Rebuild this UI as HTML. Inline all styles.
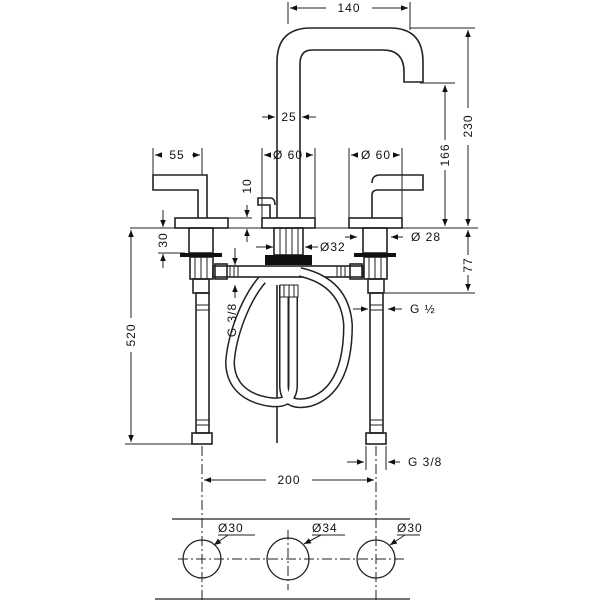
<!DOCTYPE html>
<html><head><style>html,body{margin:0;padding:0;background:#fff}svg{display:block}</style></head><body>
<svg width="600" height="600" viewBox="0 0 600 600" xmlns="http://www.w3.org/2000/svg" font-family="Liberation Sans, sans-serif" fill="none" stroke="#222">
<defs>
<marker id="a" viewBox="0 0 10 10" refX="10" refY="5" markerWidth="7" markerHeight="7" orient="auto-start-reverse"><path d="M0,1 L10,5 L0,9z" fill="#111" stroke="none"/></marker>
</defs>
<g stroke-width="1">
<line x1="288" y1="2" x2="288" y2="24"/><line x1="410" y1="2" x2="410" y2="30"/>
<line x1="290" y1="8" x2="326" y2="8" marker-start="url(#a)"/><line x1="372" y1="8" x2="408" y2="8" marker-end="url(#a)"/>
<line x1="410" y1="28" x2="475" y2="28"/><line x1="420" y1="83" x2="455" y2="83"/>
<line x1="468" y1="30" x2="468" y2="108" marker-start="url(#a)"/><line x1="468" y1="145" x2="468" y2="226" marker-end="url(#a)"/>
<line x1="445" y1="85" x2="445" y2="140" marker-start="url(#a)"/><line x1="445" y1="170" x2="445" y2="226" marker-end="url(#a)"/>
<line x1="130" y1="228" x2="478" y2="228"/>
<line x1="468" y1="230" x2="468" y2="255" marker-start="url(#a)"/><line x1="468" y1="275" x2="468" y2="291" marker-end="url(#a)"/>
<line x1="385" y1="293" x2="475" y2="293"/>
<line x1="262" y1="117" x2="275" y2="117" marker-end="url(#a)"/><line x1="316" y1="117" x2="302" y2="117" marker-end="url(#a)"/>
<line x1="262" y1="148" x2="262" y2="218"/><line x1="315" y1="148" x2="315" y2="218"/>
<line x1="264" y1="155" x2="270" y2="155" marker-start="url(#a)"/><line x1="307" y1="155" x2="313" y2="155" marker-end="url(#a)"/>
<line x1="349" y1="148" x2="349" y2="218"/><line x1="402" y1="148" x2="402" y2="218"/>
<line x1="351" y1="155" x2="357" y2="155" marker-start="url(#a)"/><line x1="394" y1="155" x2="400" y2="155" marker-end="url(#a)"/>
<line x1="153" y1="148" x2="153" y2="175"/><line x1="202" y1="148" x2="202" y2="175"/>
<line x1="155" y1="155" x2="162" y2="155" marker-start="url(#a)"/><line x1="192" y1="155" x2="200" y2="155" marker-end="url(#a)"/>
<line x1="228" y1="218" x2="252" y2="218"/>
<line x1="247" y1="205" x2="247" y2="217" marker-end="url(#a)"/><line x1="247" y1="242" x2="247" y2="229" marker-end="url(#a)"/>
<line x1="163" y1="210" x2="163" y2="227" marker-end="url(#a)"/><line x1="163" y1="268" x2="163" y2="254" marker-end="url(#a)"/>
<line x1="158" y1="253" x2="185" y2="253"/>
<line x1="345" y1="237" x2="357" y2="237" marker-end="url(#a)"/><line x1="403" y1="237" x2="391" y2="237" marker-end="url(#a)"/>
<line x1="256" y1="247" x2="273" y2="247" marker-end="url(#a)"/><line x1="318" y1="247" x2="305" y2="247" marker-end="url(#a)"/>
<line x1="131" y1="230" x2="131" y2="318" marker-start="url(#a)"/><line x1="131" y1="352" x2="131" y2="442" marker-end="url(#a)"/>
<line x1="125" y1="444" x2="195" y2="444"/>
<line x1="235" y1="248" x2="235" y2="265" marker-end="url(#a)"/><line x1="235" y1="298" x2="235" y2="285" marker-end="url(#a)"/>
<line x1="353" y1="309" x2="368" y2="309" marker-end="url(#a)"/><line x1="402" y1="309" x2="388" y2="309" marker-end="url(#a)"/>
<line x1="347" y1="462" x2="364" y2="462" marker-end="url(#a)"/><line x1="400" y1="462" x2="388" y2="462" marker-end="url(#a)"/>
<line x1="366" y1="446" x2="366" y2="470"/><line x1="386" y1="446" x2="386" y2="470"/>
<line x1="204" y1="480" x2="266" y2="480" marker-start="url(#a)"/><line x1="312" y1="480" x2="374" y2="480" marker-end="url(#a)"/>
<line x1="202" y1="446" x2="202" y2="600" stroke-dasharray="10 3 2 3"/>
<line x1="376" y1="446" x2="376" y2="600" stroke-dasharray="10 3 2 3"/>
<line x1="288" y1="530" x2="288" y2="590" stroke-dasharray="10 3 2 3"/>
<line x1="178" y1="559" x2="405" y2="559" stroke-dasharray="10 3 2 3"/>
</g>
<g stroke-width="1.6">
<path d="M277 218 V62 Q277 28 311 28 H390 Q423 28 423 62 V82 H404 V72 Q404 50 383 50 H312 Q300 50 300 64 V218"/>
<rect x="175" y="218" width="53" height="10"/><rect x="262" y="218" width="53" height="10"/><rect x="349" y="218" width="53" height="10"/>
<path d="M198 218 V190 H153 V175 H207 V218"/>
<path d="M372 218 V195 Q372 190 378 190 H423 V175 H380 Q372 175 372 183"/>
<path d="M270 218 V205 H258 V198 H270 Q275 198 275 205"/>
<rect x="189" y="228" width="24" height="25"/><rect x="363" y="228" width="24" height="25"/>
<rect x="274" y="228" width="29" height="27"/>
<path d="M280 228V255M286 228V255M292 228V255M298 228V255" stroke-width="1"/>
<rect x="190" y="257" width="23" height="22"/><rect x="364" y="257" width="23" height="22"/>
<path d="M195 257V279M201 257V279M207 257V279M369 257V279M375 257V279M381 257V279" stroke-width="1"/>
<rect x="193" y="279" width="16" height="14"/><rect x="368" y="279" width="16" height="14"/>
<rect x="213" y="266" width="150" height="11"/>
<rect x="215" y="264" width="12" height="15"/><rect x="350" y="264" width="12" height="15"/>
<path d="M230 266V277M234 266V277M238 266V277M337 266V277M341 266V277M345 266V277" stroke-width="1"/>
<rect x="196" y="293" width="13" height="140"/><rect x="370" y="293" width="13" height="140"/>
<path d="M196 305H209M196 310H209M196 420H209M196 425H209M370 305H383M370 310H383M370 420H383M370 425H383" stroke-width="1"/>
<rect x="192" y="433" width="20" height="11"/><rect x="366" y="433" width="20" height="11"/>
<line x1="277" y1="285" x2="277" y2="443"/>
</g>
<rect x="265" y="255" width="47" height="10" fill="#111" stroke="none"/>
<rect x="180" y="253" width="42" height="4" fill="#111" stroke="none"/>
<rect x="354" y="253" width="42" height="4" fill="#111" stroke="none"/>
<g stroke="#222" stroke-width="10">
<path d="M293 285 V385 Q293 405 270 402 C242 398 230 382 230 362 C232 335 245 300 262 280"/>
<path d="M284 285 V385 Q284 408 310 402 Q348 390 348 325 Q345 282 300 272"/>
</g>
<g stroke="#fff" stroke-width="7">
<path d="M293 285 V385 Q293 405 270 402 C242 398 230 382 230 362 C232 335 245 300 262 280"/>
<path d="M284 285 V385 Q284 408 310 402 Q348 390 348 325 Q345 282 300 272"/>
</g>
<rect x="280" y="285" width="18" height="12" fill="#fff" stroke="#222"/>
<path d="M284 285V297M289 285V297M294 285V297" stroke="#222"/>
<g stroke-width="1.3">
<line x1="172" y1="519" x2="410" y2="519"/><line x1="155" y1="599" x2="410" y2="599"/>
<circle cx="202" cy="559" r="19"/><circle cx="288" cy="559" r="21"/><circle cx="376" cy="559" r="19"/>
</g>
<g stroke-width="1">
<line x1="218" y1="535" x2="255" y2="535"/><line x1="228" y1="535" x2="214" y2="545" marker-end="url(#a)"/>
<line x1="312" y1="535" x2="345" y2="535"/><line x1="321" y1="535" x2="304" y2="544" marker-end="url(#a)"/>
<line x1="397" y1="535" x2="420" y2="535"/><line x1="405" y1="535" x2="390" y2="545" marker-end="url(#a)"/>
</g>
<g fill="#111" stroke="none" font-size="12" letter-spacing="1">
<text x="349" y="12" text-anchor="middle">140</text>
<text x="289" y="121" text-anchor="middle">25</text>
<text x="288" y="159" text-anchor="middle">Ø 60</text>
<text x="376" y="159" text-anchor="middle">Ø 60</text>
<text x="177" y="159" text-anchor="middle">55</text>
<text x="411" y="241">Ø 28</text>
<text x="320" y="251">Ø32</text>
<text x="410" y="313">G ½</text>
<text x="408" y="466">G 3/8</text>
<text x="289" y="484" text-anchor="middle">200</text>
<text transform="translate(472,126) rotate(-90)" text-anchor="middle">230</text>
<text transform="translate(449,155) rotate(-90)" text-anchor="middle">166</text>
<text transform="translate(472,265) rotate(-90)" text-anchor="middle">77</text>
<text transform="translate(251,186) rotate(-90)" text-anchor="middle">10</text>
<text transform="translate(167,240) rotate(-90)" text-anchor="middle">30</text>
<text transform="translate(135,335) rotate(-90)" text-anchor="middle">520</text>
<text transform="translate(236,320) rotate(-90)" text-anchor="middle">G 3/8</text>
<text x="218" y="532">Ø30</text>
<text x="312" y="532">Ø34</text>
<text x="397" y="532">Ø30</text>
</g>
</svg>
</body></html>
